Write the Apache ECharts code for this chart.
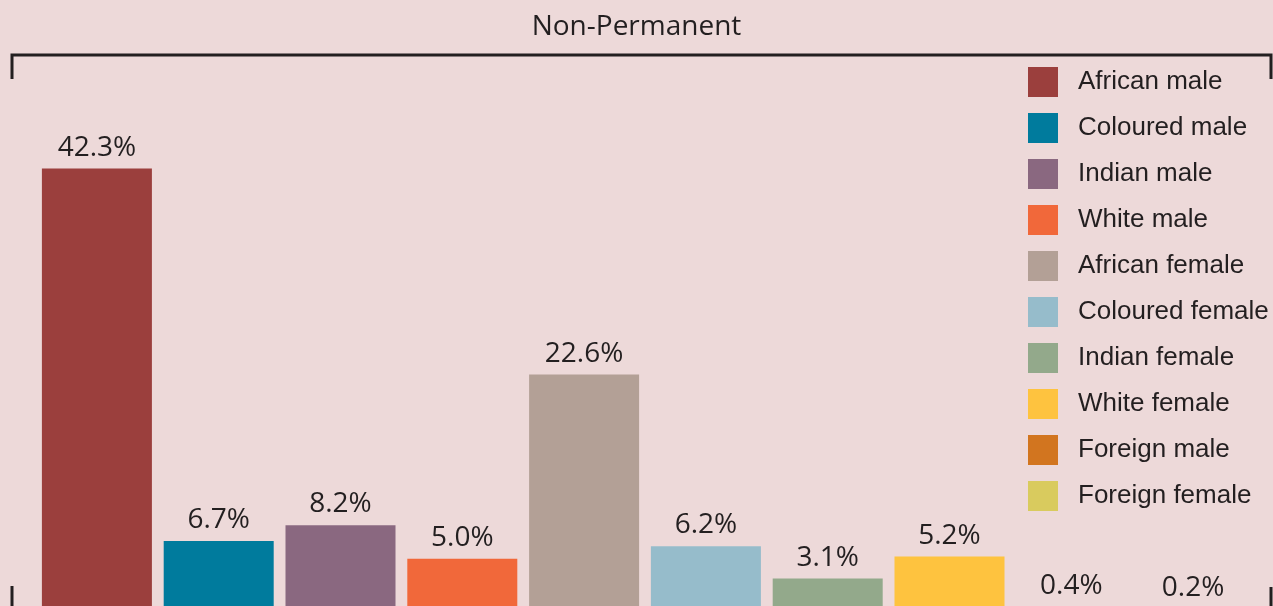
<!DOCTYPE html>
<html>
<head>
    <meta charset="utf-8" />
    <title>Non-Permanent</title>
    <script src="https://cdn.jsdelivr.net/npm/echarts@6/dist/echarts.min.js"></script>
    <style>
        html, body { margin: 0; padding: 0; background: #EDD9D9; overflow: hidden; }
    </style>
</head>
<body>
    <!-- chart is a bit taller than the window: the baseline sits just below the visible edge -->
    <div id="main" style="width: 1273px;height:611px;"></div>
    <script type="text/javascript">

    // groups (x categories / legend entries)
    var groups = ['African male', 'Coloured male', 'Indian male', 'White male',
                  'African female', 'Coloured female', 'Indian female', 'White female',
                  'Foreign male', 'Foreign female'];
    // share of non-permanent, percent
    var shares = [42.3, 6.7, 8.2, 5.0, 22.6, 6.2, 3.1, 5.2, 0.4, 0.2];
    var colors = ['#9B3F3D', '#007B9D', '#8A6880', '#F1683A', '#B3A096',
                  '#96BCCB', '#93A98B', '#FEC33F', '#D2751F', '#D9CB5E'];

    var myChart = echarts.init(document.getElementById('main'));

    // one series per group so that the legend gets its own square for each
    var series = groups.map(function (name, i) {
        var data = groups.map(function (g, j) { return j === i ? shares[i] : '-'; });
        return {
            name: name,
            type: 'bar',
            stack: 'one',
            barWidth: 110,
            data: data,
            itemStyle: { color: colors[i] },
            label: {
                show: true,
                position: 'top',
                distance: 7,
                color: '#231F20',
                fontFamily: 'Open Sans',
                fontSize: 28,
                formatter: function (p) { return p.value.toFixed(1) + '%'; }
            }
        };
    });

    var option = {
        backgroundColor: '#EDD9D9',
        animation: false,
        title: {
            text: 'Non-Permanent',
            left: 'center',
            top: 8,
            textStyle: { fontFamily: 'Open Sans', fontSize: 28, fontWeight: 'normal', color: '#231F20' }
        },
        legend: {
            orient: 'vertical',
            left: 1028,
            top: 67,
            padding: 0,
            itemWidth: 30,
            itemHeight: 30,
            itemGap: 16,
            icon: 'rect',
            textStyle: { fontFamily: 'Liberation Sans', fontSize: 26, color: '#231F20', padding: [0, 0, 0, 15] },
            data: groups
        },
        grid: { left: 36, right: 19, top: 88, bottom: 0 },
        xAxis: { type: 'category', data: groups, show: false },
        yAxis: { type: 'value', min: 0, max: 50, show: false },
        graphic: [
            { type: 'polyline', shape: { points: [[12, 79], [12, 55], [1271, 55], [1271, 79]] },
              style: { stroke: '#231F20', lineWidth: 3, fill: null } },
            { type: 'line', shape: { x1: 12, y1: 586, x2: 12, y2: 611 }, style: { stroke: '#231F20', lineWidth: 3 } },
            { type: 'line', shape: { x1: 1271, y1: 587, x2: 1271, y2: 611 }, style: { stroke: '#231F20', lineWidth: 3 } }
        ],
        series: series
    };

    myChart.setOption(option);
    </script>
</body>
</html>
